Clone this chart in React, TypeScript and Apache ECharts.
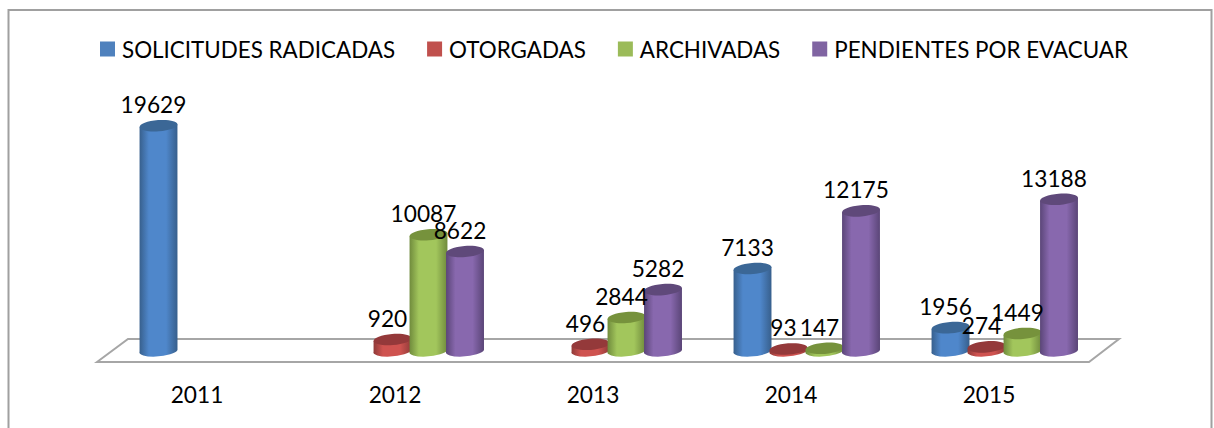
import React, { useEffect, useRef } from "react";
import * as echarts from "echarts";

const years = ["2011", "2012", "2013", "2014", "2015"];
const solicitudes = [19629, null, null, 7133, 1956];
const otorgadas = [null, 920, 496, 93, 274];
const archivadas = [null, 10087, 2844, 147, 1449];
const pendientes = [null, 8622, 5282, 12175, 13188];

const seriesNames = ["SOLICITUDES RADICADAS", "OTORGADAS", "ARCHIVADAS", "PENDIENTES POR EVACUAR"];
const seriesValues = [solicitudes, otorgadas, archivadas, pendientes];
const legendColors = ["#4F81BD", "#C0504D", "#9BBB59", "#8064A2"];
const edgeColors = ["#375F8C", "#8F3A38", "#6F8A3C", "#5A4577"];
const midColors = ["#4F87CB", "#CF5350", "#A2C65C", "#8868AE"];
const capColors = ["#3B6796", "#94393A", "#76923C", "#5F497A"];
const offsets = [-38.5, -2.5, 33.5, 70];
const FONT = "Lato";

function makeRender(idx: number) {
  return (params: any, api: any) => {
    const v = api.value(1);
    if (v == null || isNaN(v)) return null;
    const [cx0, topY] = api.coord([api.value(0), v]);
    const baseY = api.coord([api.value(0), 0])[1];
    const cx = cx0 + offsets[idx];
    const rx = 19;
    const ry = 5.6;
    const tilt = 0.08;
    const dx = rx * Math.cos(tilt);
    const dy = rx * Math.sin(tilt);
    const rot = (-tilt * 180) / Math.PI;
    const d =
      `M${cx - dx} ${topY + dy} L${cx - dx} ${baseY + dy} ` +
      `A${rx} ${ry} ${rot} 0 0 ${cx + dx} ${baseY - dy} ` +
      `L${cx + dx} ${topY - dy} Z`;
    return {
      type: "group",
      children: [
        {
          type: "path",
          shape: { pathData: d },
          style: {
            fill: new echarts.graphic.LinearGradient(0, 0, 1, 0, [
              { offset: 0, color: edgeColors[idx] },
              { offset: 0.25, color: midColors[idx] },
              { offset: 0.7, color: midColors[idx] },
              { offset: 1, color: edgeColors[idx] },
            ]),
          },
        },
        {
          type: "ellipse",
          x: cx,
          y: topY,
          rotation: tilt,
          shape: { cx: 0, cy: 0, rx, ry },
          style: { fill: capColors[idx] },
        },
        {
          type: "text",
          z2: 100,
          style: {
            text: String(v),
            x: cx - 5,
            y: topY - 21,
            align: "center",
            verticalAlign: "middle",
            fill: "#000",
            font: `22.7px ${FONT}`,
          },
        },
      ],
    };
  };
}

export default function App() {
  const ref = useRef<HTMLDivElement>(null);
  useEffect(() => {
    document.body.style.margin = "0";
    const chart = echarts.init(ref.current!, null, { renderer: "svg" });
    chart.setOption({
      animation: false,
      backgroundColor: "#fff",
      grid: { left: 98, width: 990, top: 125.7, height: 224.3 },
      legend: {
        left: 95,
        top: 33,
        icon: "rect",
        itemWidth: 15,
        itemHeight: 15,
        itemGap: 32,
        textStyle: { fontFamily: FONT, fontSize: 22.4, color: "#000", padding: [0, 0, 0, 2] },
        data: seriesNames.map((name, i) => ({ name, itemStyle: { color: legendColors[i] } })),
      },
      xAxis: {
        type: "category",
        data: years,
        axisLine: { show: false },
        axisTick: { show: false },
        axisLabel: { color: "#000", fontFamily: FONT, fontSize: 22.7, margin: 33 },
      },
      yAxis: { type: "value", min: 0, max: 19629, show: false },
      graphic: [
        {
          type: "rect",
          shape: { x: 8.5, y: 10, width: 1203, height: 430 },
          style: { fill: "none", stroke: "#a0a0a0", lineWidth: 2 },
          silent: true,
        },
        {
          type: "polygon",
          z: -1,
          shape: { points: [[97, 362], [128, 339], [1119, 339], [1089, 362]] },
          style: { fill: "none", stroke: "#a6a6a6", lineWidth: 2 },
          silent: true,
        },
      ],
      series: seriesNames.map((name, i) => ({
        name,
        type: "custom",
        coordinateSystem: "cartesian2d",
        itemStyle: { color: legendColors[i] },
        renderItem: makeRender(i),
        encode: { x: 0, y: 1 },
        data: years.map((y, k) => [k, seriesValues[i][k]]),
      })),
    });
    return () => chart.dispose();
  }, []);
  return <div ref={ref} style={{ width: 1214, height: 428 }} />;
}
